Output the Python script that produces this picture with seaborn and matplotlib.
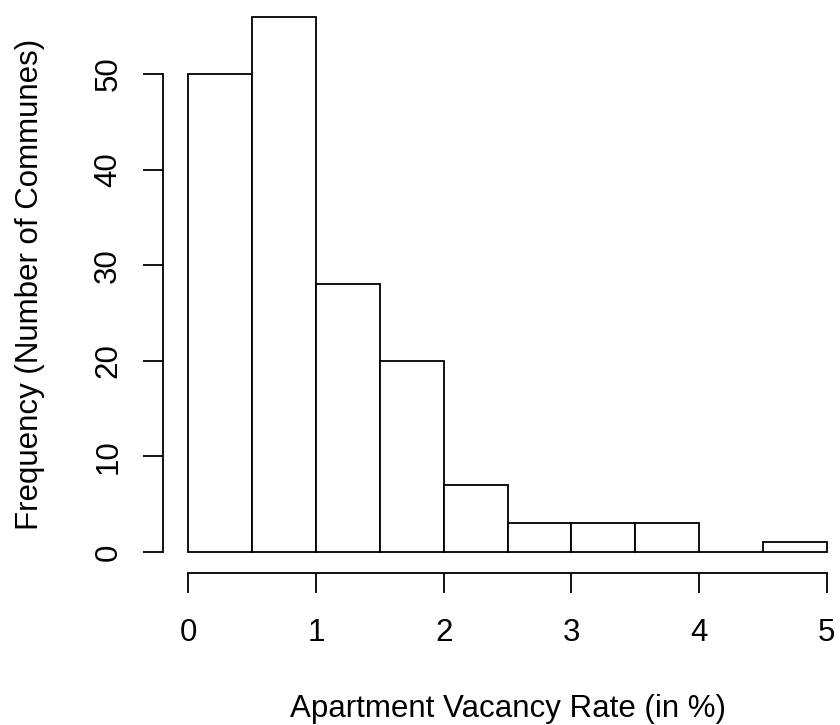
import numpy as np
import pandas as pd
import matplotlib
matplotlib.use('Agg')
import matplotlib.pyplot as plt
import seaborn as sns

# vacancy rate bins (in %) and number of communes per bin
bin_edges = [0.0, 0.5, 1.0, 1.5, 2.0, 2.5, 3.0, 3.5, 4.0, 4.5, 5.0]
counts = [50, 56, 28, 20, 7, 3, 3, 3, 0, 1]
x_ticks = [0, 1, 2, 3, 4, 5]
y_ticks = [0, 10, 20, 30, 40, 50]

sns.set_style('white')
plt.rcParams['font.family'] = ['Liberation Sans', 'DejaVu Sans']
plt.rcParams['text.color'] = 'black'
plt.rcParams['axes.labelcolor'] = 'black'

edges = np.array(bin_edges)
df = pd.DataFrame({'rate': (edges[:-1] + edges[1:]) / 2, 'n': counts})

fs = 22.5

fig = plt.figure(figsize=(8.4, 7.25), dpi=100)
ax = fig.add_axes([0.1937, 0.2091, 0.8210, 0.7975])

sns.histplot(data=df, x='rate', weights='n', bins=bin_edges, ax=ax,
             color='white', edgecolor='black', linewidth=1.3, alpha=1)

ax.set_xlim(-0.2, 5.2)
ax.set_ylim(-2.24, 58.24)

# R style axes: lines only between first and last tick
for side in ['top', 'right']:
  ax.spines[side].set_visible(False)
ax.spines['bottom'].set_bounds(0, 5)
ax.spines['left'].set_bounds(0, 50)
for side in ['bottom', 'left']:
  ax.spines[side].set_linewidth(1.3)
  ax.spines[side].set_color('black')

ax.set_xticks(x_ticks)
ax.set_yticks(y_ticks)
ax.set_xticklabels([str(t) for t in x_ticks], fontsize=fs, color='black')
ax.set_yticklabels([str(t) for t in y_ticks], rotation=90, va='center',
                   fontsize=fs, color='black')
ax.tick_params(axis='both', which='major', direction='out', length=14.4,
               width=1.3, color='black', bottom=True, left=True)
ax.tick_params(axis='x', pad=17.5)
ax.tick_params(axis='y', pad=14)

ax.set_xlabel('Apartment Vacancy Rate (in %)', fontsize=fs, color='black')
ax.set_ylabel('Frequency (Number of Communes)', fontsize=fs, color='black')
ax.xaxis.set_label_coords(0.5, -0.208)
ax.yaxis.set_label_coords(-0.170, 0.5)
ax.grid(False)

fig.savefig('out.png', dpi=100)
